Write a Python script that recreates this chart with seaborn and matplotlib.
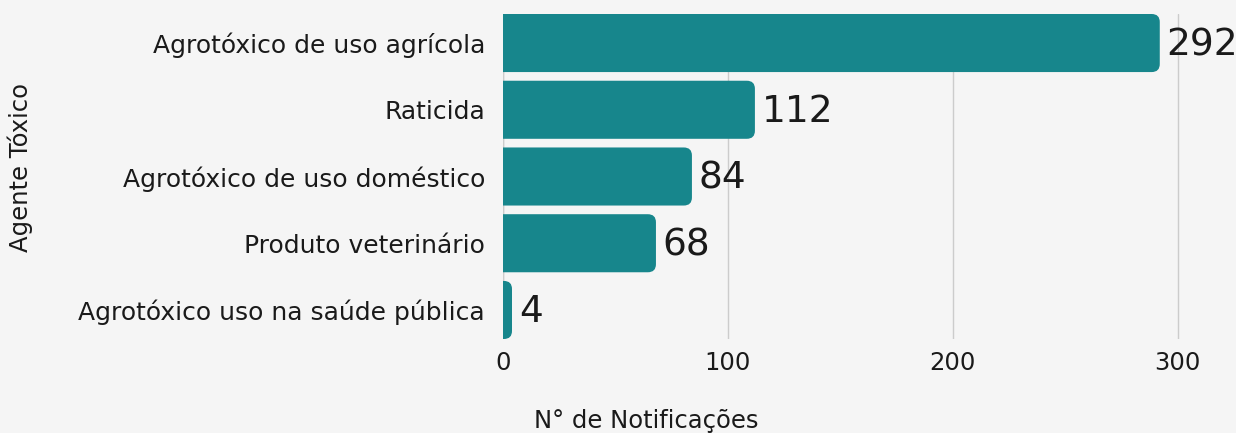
import matplotlib
matplotlib.use("Agg")
import matplotlib.pyplot as plt
import seaborn as sns
import pandas as pd
from matplotlib.patches import FancyBboxPatch

# data
agentes = ['Agrotóxico de uso agrícola', 'Raticida', 'Agrotóxico de uso doméstico',
           'Produto veterinário', 'Agrotóxico uso na saúde pública']
notificacoes = [292, 112, 84, 68, 4]
xticks = [0, 100, 200, 300]

df = pd.DataFrame({'Agente Tóxico': agentes, 'N° de Notificações': notificacoes})

sns.set_style('white')
plt.rcParams['font.family'] = ['DejaVu Sans']
bg = '#f5f5f5'
bar_color = '#17868c'
txt = '#1a1a1a'

fig = plt.figure(figsize=(12.36, 4.33), dpi=100, facecolor=bg)
W, H = 1236, 433
ax = fig.add_axes([503 / W, (H - 339) / H, (1234 - 503) / W, (339 - 14) / H])
ax.set_facecolor(bg)

sns.barplot(data=df, x='N° de Notificações', y='Agente Tóxico', color=bar_color,
            width=0.87, saturation=1, ax=ax, zorder=2)

# swap plain bars for bars rounded on the right end
for p in list(ax.patches):
    x0, y0 = p.get_x(), p.get_y()
    w, h = p.get_width(), p.get_height()
    p.remove()
    r = 3.6
    rb = FancyBboxPatch((x0 - 10, y0), w + 10, h,
                        boxstyle=f'round,pad=0,rounding_size={r}',
                        mutation_aspect=0.12 / 3.6,
                        facecolor=bar_color, edgecolor='none', zorder=2,
                        clip_on=True)
    ax.add_patch(rb)
    ax.text(x0 + w + 3, y0 + h / 2 + 0.03, f'{w:.0f}', va='center', ha='left',
            fontsize=27, color=txt, zorder=3, clip_on=False)

ax.set_xlim(0, 325)
ax.set_ylim(len(agentes) - 1 + 0.435, -0.435)
ax.set_xticks(xticks)
ax.xaxis.grid(True, color='#cccccc', linewidth=1, zorder=0)
ax.set_axisbelow(True)
for s in ax.spines.values():
    s.set_visible(False)
ax.axvline(0, color='#cccccc', linewidth=1, zorder=1)

ax.tick_params(axis='x', length=0, colors=txt, labelsize=17.5, pad=9)
ax.tick_params(axis='y', length=0, colors=txt, labelsize=18, pad=13)

ax.set_xlabel('')
ax.set_ylabel('')
fig.text(646 / W, 1 - 421 / H, 'N° de Notificações', ha='center', va='center',
         fontsize=17.5, color=txt)
fig.text(20 / W, 1 - 167 / H, 'Agente Tóxico', ha='center', va='center',
         rotation=90, fontsize=17.5, color=txt)

fig.savefig('out.png', dpi=100, facecolor=bg)
